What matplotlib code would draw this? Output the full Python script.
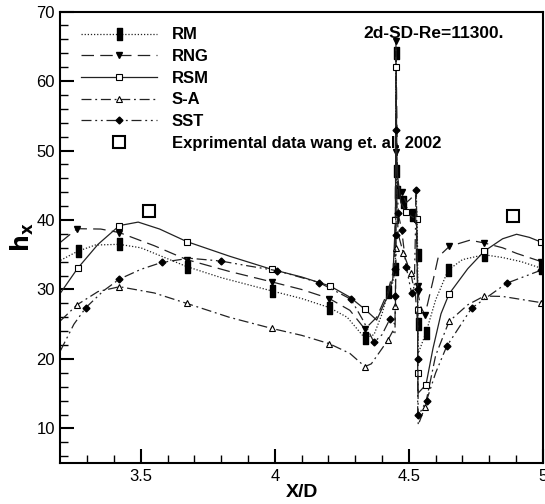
import numpy as np
import matplotlib
matplotlib.use("Agg")
import matplotlib.pyplot as plt
from matplotlib.path import Path

plt.rcParams['font.family'] = ['Liberation Sans', 'DejaVu Sans']

# each series: x, y, and 1 where a marker is drawn
rm_x = [3.20, 3.264, 3.33, 3.419, 3.50, 3.671, 3.80, 3.988, 4.10, 4.203, 4.27, 4.336, 4.37, 4.40, 4.423, 4.44,
        4.450, 4.451, 4.452, 4.455, 4.479, 4.51, 4.53, 4.533, 4.533, 4.535, 4.564, 4.60, 4.647, 4.70, 4.781,
        4.85, 4.92, 4.995]
rm_y = [34.2, 35.5, 36.4, 36.5, 36.0, 33.3, 31.7, 29.8, 28.7, 27.4, 26.0, 23.0, 23.5, 26.5, 29.7, 31.0,
        33.0, 47.0, 64.0, 44.0, 42.6, 40.7, 41.5, 35.0, 25.0, 20.8, 23.8, 28.5, 32.8, 34.3, 35.0,
        34.6, 34.0, 33.05]
rm_m = [0, 1, 0, 1, 0, 1, 0, 1, 0, 1, 0, 1, 0, 0, 1, 0,
        1, 1, 1, 1, 1, 1, 0, 1, 1, 0, 1, 0, 1, 0, 1,
        0, 0, 1]

rng_x = [3.20, 3.262, 3.35, 3.419, 3.55, 3.671, 3.83, 3.988, 4.10, 4.203, 4.28, 4.336, 4.38, 4.42, 4.445,
         4.450, 4.451, 4.452, 4.458, 4.473, 4.49, 4.505, 4.525, 4.533, 4.533, 4.545, 4.56, 4.591, 4.61,
         4.651, 4.728, 4.781, 4.85, 4.902, 4.995]
rng_y = [36.8, 38.75, 38.7, 38.2, 36.3, 34.3, 32.6, 31.1, 30.0, 28.7, 27.0, 24.3, 26.0, 29.5, 33.0,
         40.0, 49.8, 65.8, 45.0, 44.1, 42.5, 43.0, 43.8, 30.5, 29.6, 27.5, 26.3, 31.4, 34.7,
         36.2, 37.1, 36.7, 36.0, 35.2, 34.0]
rng_m = [0, 1, 0, 1, 0, 1, 0, 1, 0, 1, 0, 1, 0, 0, 0,
         1, 1, 1, 0, 1, 0, 0, 0, 1, 1, 0, 1, 0, 0,
         1, 0, 1, 0, 0, 1]

rsm_x = [3.20, 3.264, 3.34, 3.42, 3.49, 3.57, 3.671, 3.83, 3.988, 4.10, 4.206, 4.28, 4.336, 4.38, 4.417,
         4.44, 4.450, 4.452, 4.456, 4.47, 4.49, 4.51, 4.529, 4.533, 4.533, 4.535, 4.564, 4.59, 4.62,
         4.65, 4.72, 4.781, 4.85, 4.902, 4.95, 4.995]
rsm_y = [29.5, 33.05, 36.5, 39.2, 39.7, 38.7, 36.9, 34.8, 32.9, 31.8, 30.5, 28.9, 27.15, 25.6, 28.7,
         31.5, 40.0, 62.0, 47.0, 42.5, 41.2, 40.5, 40.2, 27.0, 18.0, 15.1, 16.3, 21.5, 26.5,
         29.35, 33.0, 35.5, 37.3, 37.95, 37.5, 36.8]
rsm_m = [0, 1, 0, 1, 0, 0, 1, 0, 1, 0, 1, 0, 1, 0, 0,
         0, 1, 1, 0, 0, 1, 0, 1, 1, 1, 0, 1, 0, 0,
         1, 0, 1, 0, 0, 0, 1]

sa_x = [3.20, 3.262, 3.34, 3.42, 3.55, 3.671, 3.83, 3.988, 4.10, 4.203, 4.28, 4.336, 4.36, 4.40, 4.423,
        4.44, 4.448, 4.450, 4.452, 4.453, 4.46, 4.479, 4.507, 4.525, 4.533, 4.535, 4.56, 4.60, 4.65,
        4.72, 4.781, 4.85, 4.995]
sa_y = [25.5, 27.8, 29.7, 30.4, 29.5, 28.0, 26.0, 24.4, 23.4, 22.2, 20.8, 18.9, 19.3, 21.5, 22.8,
        24.0, 23.5, 27.6, 36.0, 45.0, 38.0, 35.3, 32.4, 29.0, 25.0, 10.5, 13.05, 20.5, 25.4,
        27.8, 29.05, 29.0, 28.1]
sa_m = [0, 1, 0, 1, 0, 1, 0, 1, 0, 1, 0, 1, 0, 0, 1,
        0, 0, 1, 1, 0, 0, 1, 1, 0, 0, 0, 1, 0, 1,
        0, 1, 0, 1]

sst_x = [3.20, 3.25, 3.295, 3.36, 3.42, 3.50, 3.578, 3.68, 3.798, 3.90, 4.009, 4.165, 4.284, 4.33, 4.37,
         4.40, 4.43, 4.448, 4.450, 4.450, 4.451, 4.452, 4.460, 4.473, 4.49, 4.51, 4.52, 4.528, 4.533,
         4.533, 4.533, 4.545, 4.566, 4.60, 4.641, 4.734, 4.865, 4.995]
sst_y = [21.2, 25.0, 27.4, 29.8, 31.5, 32.9, 33.9, 34.5, 34.1, 33.4, 32.7, 31.0, 28.6, 25.5, 22.4,
         23.5, 25.8, 25.0, 29.0, 33.0, 37.8, 53.0, 41.0, 38.6, 33.3, 29.5, 30.0, 44.3, 30.0,
         20.0, 11.9, 12.5, 14.0, 18.0, 21.8, 27.3, 30.9, 32.8]
sst_m = [0, 0, 1, 0, 1, 0, 1, 0, 1, 0, 1, 1, 1, 0, 1,
         0, 1, 0, 1, 1, 1, 1, 1, 1, 1, 1, 0, 1, 1,
         1, 1, 0, 1, 0, 1, 1, 1, 1]

exp_x = [3.53, 4.89]
exp_y = [41.3, 40.6]

labels = ['RM', 'RNG', 'RSM', 'S-A', 'SST', 'Exprimental data wang et. al. 2002']

# tall filled rectangle used by tecplot for RM
tall_rect = Path([(-0.45, -1), (0.45, -1), (0.45, 1), (-0.45, 1), (-0.45, -1)],
                 [Path.MOVETO, Path.LINETO, Path.LINETO, Path.LINETO, Path.CLOSEPOLY])

fig = plt.figure(figsize=(5.45, 5.04), dpi=100)
ax = fig.add_axes([0.111, 0.081, 0.885, 0.896])

lc = '#222222'
def idx(m):
    return [i for i, v in enumerate(m) if v]

ax.plot(rm_x, rm_y, color=lc, lw=0.9, ls=(0, (1, 1.5)), marker=tall_rect, ms=8,
        mfc='k', mec='k', markevery=idx(rm_m), label=labels[0])
ax.plot(rng_x, rng_y, color=lc, lw=0.9, ls=(0, (10, 5)), marker='v', ms=5,
        mfc='k', mec='k', markevery=idx(rng_m), label=labels[1])
ax.plot(rsm_x, rsm_y, color=lc, lw=0.9, ls='-', marker='s', ms=4,
        mfc='white', mec='k', mew=0.8, markevery=idx(rsm_m), label=labels[2])
ax.plot(sa_x, sa_y, color=lc, lw=0.9, ls=(0, (8, 3, 1.5, 3)), marker='^', ms=5,
        mfc='white', mec='k', mew=0.8, markevery=idx(sa_m), label=labels[3])
ax.plot(sst_x, sst_y, color=lc, lw=0.9, ls=(0, (8, 3, 1.5, 3, 1.5, 3)), marker='D', ms=3.5,
        mfc='k', mec='k', markevery=idx(sst_m), label=labels[4])
ax.plot(exp_x, exp_y, ls='none', marker='s', ms=8, mfc='white', mec='k', mew=1.5, label=labels[5])

ax.set_xlim(3.2, 5)
ax.set_ylim(5, 70)
ax.set_xticks([3.5, 4, 4.5, 5])
ax.set_xticklabels(['3.5', '4', '4.5', '5'])
ax.set_xticks(np.arange(3.3, 5.0, 0.1), minor=True)
ax.set_yticks([10, 20, 30, 40, 50, 60, 70])
ax.set_yticks(np.arange(6, 70, 2), minor=True)
ax.tick_params(which='major', direction='in', length=10, width=1.5, labelsize=12, pad=4)
ax.tick_params(which='minor', direction='in', length=6, width=1.0)
for s in ax.spines.values():
    s.set_linewidth(1.5)

ax.set_xlabel('X/D', fontsize=14, fontweight='bold', labelpad=0)
ax.set_ylabel(r'$\mathbf{h_x}$', fontsize=17, labelpad=0)

ax.text(0.919, 0.952, '2d-SD-Re=11300.', transform=ax.transAxes, ha='right', va='center',
        fontsize=12.5, fontweight='bold')

leg = ax.legend(loc='upper left', bbox_to_anchor=(0.042, 0.965), frameon=False, numpoints=1,
                handlelength=4.6, handletextpad=0.85, labelspacing=0.40, borderpad=0, borderaxespad=0,
                prop={'weight': 'bold', 'size': 12})

fig.savefig('out.png', dpi=100)
